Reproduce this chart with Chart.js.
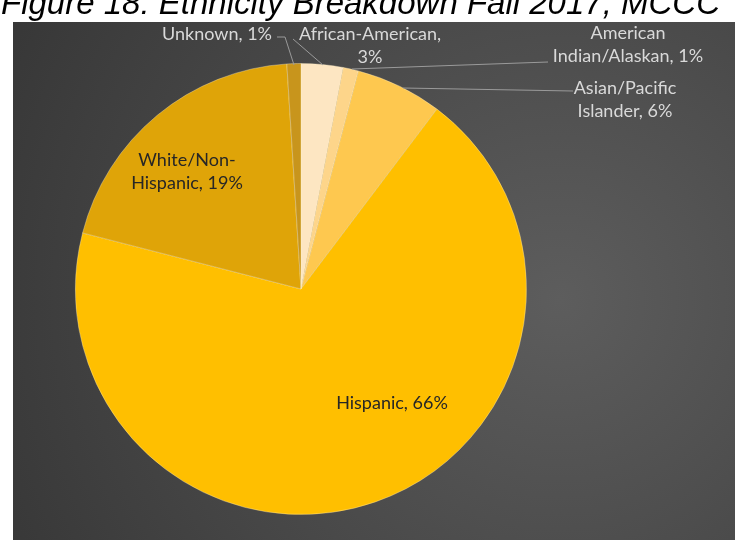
<!DOCTYPE html>
<html>
<head>
<meta charset="utf-8">
<script src="https://cdn.jsdelivr.net/npm/chart.js@4"></script>
<style>
  html, body { margin: 0; padding: 0; background: #fff; }
  #wrap { width: 735px; height: 540px; }
</style>
</head>
<body>
<div id="wrap"><canvas id="chart-canvas" width="735" height="540"></canvas></div>
<script>
// slice order is clockwise from 12 o'clock, as in the picture
const categories = ['African-American', 'American Indian/Alaskan', 'Asian/Pacific Islander', 'Hispanic', 'White/Non-Hispanic', 'Unknown'];
// slice sizes
const sliceValues = [3.0, 1.1, 6.2, 68.7, 20.0, 1.0];
// percentages printed in the labels
const pctLabels = ['3%', '1%', '6%', '66%', '19%', '1%'];
const sliceColors = ['#fde6c2', '#fdd58a', '#fec84f', '#ffbf00', '#dfa408', '#c8951c'];

const titleText = 'Figure 18: Ethnicity Breakdown Fall 2017, MCCC';

// text placement for each label: lines, x, y, colour, leader line points
const labelSpecs = [
  { lines: ['African-American,', pctLabels[0]], x: 370, y: 34, color: '#d9d9d9', leader: [[293, 39], [323, 65]] },
  { lines: ['American', 'Indian/Alaskan, ' + pctLabels[1]], x: 628, y: 33, color: '#d9d9d9', leader: [[352, 69], [548, 62]] },
  { lines: ['Asian/Pacific', 'Islander, ' + pctLabels[2]], x: 625, y: 88, color: '#d9d9d9', leader: [[403, 88], [573, 91]] },
  { lines: ['Hispanic, ' + pctLabels[3]], x: 392, y: 403, color: '#262626' },
  { lines: ['White/Non-', 'Hispanic, ' + pctLabels[4]], x: 187, y: 160, color: '#262626' },
  { lines: ['Unknown, ' + pctLabels[5]], x: 217, y: 34, color: '#d9d9d9', leader: [[277, 37], [285, 37], [294, 65]] }
];

const background = {
  id: 'background',
  beforeDraw(chart) {
    const ctx = chart.ctx;
    ctx.save();
    ctx.fillStyle = '#fff';
    ctx.fillRect(0, 0, chart.width, chart.height);
    const g = ctx.createRadialGradient(560, 300, 0, 560, 300, 620);
    g.addColorStop(0, '#5d5d5d');
    g.addColorStop(1, '#373737');
    ctx.fillStyle = g;
    ctx.fillRect(13, 22, chart.width - 13, chart.height - 22);
    ctx.fillStyle = '#000';
    ctx.font = 'italic 33px "Liberation Sans", Arial, sans-serif';
    ctx.textBaseline = 'alphabetic';
    ctx.textAlign = 'left';
    ctx.fillText(titleText, 1, 14);
    ctx.restore();
  }
};

const sliceLabels = {
  id: 'sliceLabels',
  afterDatasetsDraw(chart) {
    const ctx = chart.ctx;
    ctx.save();
    ctx.font = '18px Lato, "Open Sans", sans-serif';
    ctx.textAlign = 'center';
    ctx.textBaseline = 'middle';
    labelSpecs.forEach(s => {
      if (s.leader) {
        ctx.strokeStyle = '#9a9a9a';
        ctx.lineWidth = 1;
        ctx.beginPath();
        s.leader.forEach((p, i) => i ? ctx.lineTo(p[0], p[1]) : ctx.moveTo(p[0], p[1]));
        ctx.stroke();
      }
      ctx.fillStyle = s.color;
      s.lines.forEach((t, i) => ctx.fillText(t, s.x, s.y + i * 23));
    });
    ctx.restore();
  }
};

new Chart(document.getElementById('chart-canvas'), {
  type: 'pie',
  plugins: [background, sliceLabels],
  data: {
    labels: categories,
    datasets: [{
      data: sliceValues,
      backgroundColor: sliceColors,
      borderColor: 'rgba(255,240,200,0.35)',
      borderWidth: 1
    }]
  },
  options: {
    responsive: false,
    animation: false,
    layout: { padding: { left: 75, right: 208, top: 63, bottom: 25 } },
    plugins: {
      legend: { display: false },
      tooltip: { enabled: false },
      title: { display: false }
    }
  }
});
</script>
</body>
</html>
